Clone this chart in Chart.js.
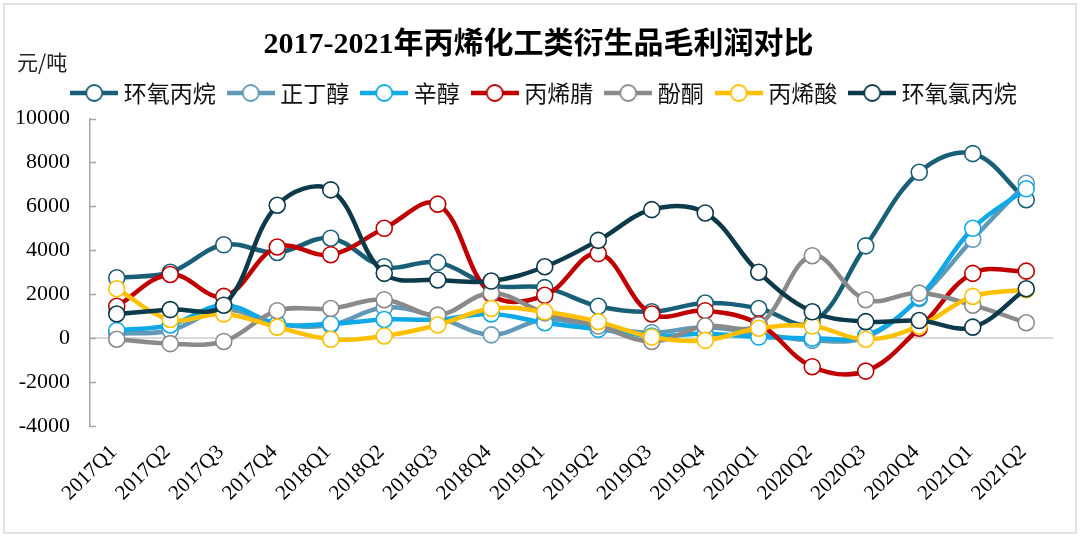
<!DOCTYPE html>
<html>
<head>
<meta charset="utf-8">
<script src="https://cdn.jsdelivr.net/npm/chart.js@4"></script>
<style>
  html, body { margin: 0; padding: 0; background: #fff; }
  #wrap { width: 1080px; height: 537px; position: relative; }
</style>
</head>
<body>
<div id="wrap"><canvas id="myChart" width="1080" height="537"></canvas></div>
<script>
const quarters = ['2017Q1', '2017Q2', '2017Q3', '2017Q4', '2018Q1', '2018Q2', '2018Q3', '2018Q4',
  '2019Q1', '2019Q2', '2019Q3', '2019Q4', '2020Q1', '2020Q2', '2020Q3', '2020Q4', '2021Q1', '2021Q2']

const seriesNames = ['环氧丙烷', '正丁醇', '辛醇', '丙烯腈', '酚酮', '丙烯酸', '环氧氯丙烷']

// 元/吨
const propyleneOxide = [2750, 3000, 4250, 3900, 4550, 3250, 3450, 2400, 2300, 1450, 1200, 1600, 1350, 700, 4200, 7550, 8400, 6300]
const nButanol = [200, 350, 1300, 650, 600, 1400, 950, 150, 850, 500, 250, 500, 200, -100, 50, 1800, 4500, 7050]
const octanol = [350, 600, 1500, 650, 650, 850, 850, 1100, 700, 400, 100, 200, 50, 0, 100, 1850, 5000, 6800]
const acrylonitrile = [1450, 2900, 1900, 4150, 3800, 5000, 6100, 2000, 1950, 3850, 1100, 1250, 650, -1300, -1500, 450, 2950, 3050]
const phenolAcetone = [-50, -250, -150, 1250, 1350, 1750, 1050, 2050, 1150, 550, -150, 550, 600, 3750, 1750, 2050, 1500, 700]
const acrylicAcid = [2250, 850, 1100, 500, -50, 100, 600, 1350, 1200, 750, 50, -100, 450, 550, -50, 550, 1900, 2200]
const epichlorohydrin = [1100, 1300, 1500, 6050, 6750, 2950, 2650, 2600, 3250, 4450, 5850, 5700, 3000, 1200, 750, 800, 500, 2250]

const yTicks = [-4000, -2000, 0, 2000, 4000, 6000, 8000, 10000]

const colors = ['#1a5f78', '#6199b6', '#0fa9e6', '#c00000', '#8a8a8a', '#ffc000', '#0c3a4a']
const values = [propyleneOxide, nButanol, octanol, acrylonitrile, phenolAcetone, acrylicAcid, epichlorohydrin]

function makeMarker(color) {
  const c = document.createElement('canvas')
  c.width = 48
  c.height = 20
  const g = c.getContext('2d')
  g.strokeStyle = color
  g.lineWidth = 4.5
  g.beginPath()
  g.moveTo(0, 10)
  g.lineTo(48, 10)
  g.stroke()
  g.beginPath()
  g.arc(24, 10, 8, 0, Math.PI * 2)
  g.fillStyle = '#fff'
  g.fill()
  g.lineWidth = 1.8
  g.stroke()
  return c
}
const markers = colors.map(makeMarker)

const serif = "'Liberation Serif', 'Noto Sans CJK SC', serif"

// 元/吨, frame, inward ticks on the value axis, and a small nudge of title/legend
const extras = {
  id: 'extras',
  afterLayout(chart) {
    chart.legend.left += 20
    chart.legend.right += 20
    chart.legend.top -= 4
    chart.titleBlock.left += 12
    chart.titleBlock.right += 12
    chart.titleBlock.top -= 2
  },
  beforeDatasetsDraw(chart) {
    const { ctx } = chart
    const y = chart.scales.y
    ctx.save()
    ctx.strokeStyle = '#a6a6a6'
    ctx.lineWidth = 1.5
    y.ticks.forEach(t => {
      const py = Math.round(y.getPixelForValue(t.value)) + 0.5
      ctx.beginPath()
      ctx.moveTo(y.right, py)
      ctx.lineTo(y.right + 6, py)
      ctx.stroke()
    })
    ctx.restore()
  },
  afterDraw(chart) {
    const { ctx } = chart
    ctx.save()
    ctx.fillStyle = '#222'
    ctx.font = "21px 'Noto Sans CJK SC'"
    ctx.textBaseline = 'middle'
    ctx.fillText('元/吨', 17, 62)
    ctx.strokeStyle = '#d9d9d9'
    ctx.lineWidth = 1.5
    ctx.strokeRect(4, 4, 1072, 529)
    ctx.restore()
  }
}

const ctx = document.getElementById('myChart')
// eslint-disable-next-line no-unused-vars
const myChart = new Chart(ctx, {
  type: 'line',
  data: {
    labels: quarters,
    datasets: seriesNames.map((name, i) => ({
      label: name,
      data: values[i],
      order: seriesNames.length - i,
      borderColor: colors[i],
      backgroundColor: colors[i],
      borderWidth: 4.5,
      tension: 0.38,
      pointRadius: 8,
      pointHoverRadius: 8,
      pointBorderWidth: 1.6,
      pointBackgroundColor: '#fff',
      pointBorderColor: colors[i]
    }))
  },
  options: {
    responsive: false,
    animation: false,
    layout: { padding: { top: 7, right: 27, left: 0, bottom: 0 } },
    plugins: {
      title: {
        display: true,
        text: '2017-2021年丙烯化工类衍生品毛利润对比',
        color: '#000',
        font: { family: serif, size: 30, weight: 'bold' },
        padding: { top: 22, bottom: 3.5 }
      },
      legend: {
        position: 'top',
        labels: {
          usePointStyle: true,
          pointStyleWidth: 36,
          padding: 17,
          color: '#111',
          font: { family: "'Noto Sans CJK SC'", size: 23 },
          sort: (a, b) => a.datasetIndex - b.datasetIndex,
          generateLabels(chart) {
            const items = Chart.defaults.plugins.legend.labels.generateLabels(chart)
            items.forEach(it => { it.pointStyle = markers[it.datasetIndex] })
            return items
          }
        }
      },
      tooltip: { enabled: false }
    },
    scales: {
      x: {
        offset: true,
        grid: { display: false },
        border: { display: false },
        ticks: {
          autoSkip: false,
          minRotation: 45,
          maxRotation: 45,
          padding: 6,
          labelOffset: -3,
          color: '#000',
          font: { family: serif, size: 21 }
        },
        afterFit(scale) { scale.height = 111 }
      },
      y: {
        min: -4000,
        max: 10000,
        afterBuildTicks(scale) { scale.ticks = yTicks.map(v => ({ value: v })) },
        grid: {
          drawTicks: false,
          color: c => (c.tick && c.tick.value === 0 ? '#d9d9d9' : 'rgba(0,0,0,0)'),
          lineWidth: 2
        },
        border: { display: true, color: '#a6a6a6', width: 1.5 },
        ticks: {
          padding: 20,
          color: '#000',
          font: { family: serif, size: 22 },
          callback: v => String(v)
        },
        afterFit(scale) { scale.width = 90 }
      }
    }
  },
  plugins: [extras]
})
</script>
</body>
</html>
